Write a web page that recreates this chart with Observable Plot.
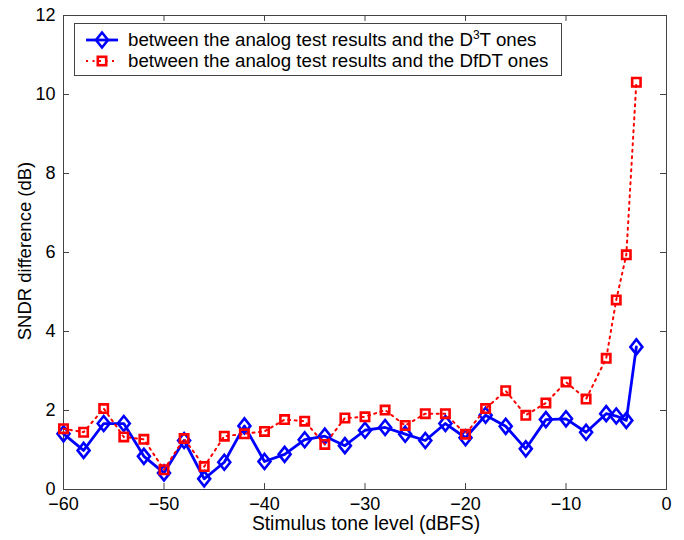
<!DOCTYPE html>
<html>
<head>
<meta charset="utf-8">
<script src="https://cdn.jsdelivr.net/npm/d3@7"></script>
<script src="https://cdn.jsdelivr.net/npm/@observablehq/plot@0.6"></script>
<style>
  html, body { margin: 0; padding: 0; background: #fff; }
  #wrap { position: relative; width: 684px; height: 540px; font-family: "Liberation Sans", Arial, sans-serif; }
  #legend { position: absolute; left: 74px; top: 23px; width: 488px; height: 53px; border: 1px solid #444; background: #fff; box-sizing: border-box; font-size: 18.7px; color: #000; }
  .row { position: absolute; left: 0; height: 22px; width: 486px; line-height: 22px; white-space: nowrap; }
  .row svg { position: absolute; left: 9px; top: 0; }
  .row span { position: absolute; left: 53px; top: 0; }
  sup { font-size: 12px; vertical-align: 7px; line-height: 0; }
</style>
</head>
<body>
<div id="wrap"></div>
<script>
const levels = [-60,-58,-56,-54,-52,-50,-48,-46,-44,-42,-40,-38,-36,-34,-32,-30,-28,-26,-24,-22,-20,-18,-16,-14,-12,-10,-8,-6,-5,-4,-3];
const d3tDiff = [1.41,0.99,1.67,1.67,0.84,0.42,1.24,0.27,0.69,1.61,0.71,0.89,1.26,1.35,1.11,1.50,1.57,1.40,1.24,1.67,1.31,1.88,1.60,1.03,1.77,1.79,1.45,1.92,1.86,1.75,3.61];
const dfdtDiff = [1.54,1.45,2.05,1.33,1.27,0.50,1.29,0.58,1.35,1.41,1.47,1.77,1.73,1.14,1.81,1.84,2.01,1.62,1.92,1.92,1.40,2.05,2.50,1.88,2.19,2.72,2.29,3.32,4.80,5.94,10.31];
const xTicks = [-60,-50,-40,-30,-20,-10,0];
const yTicks = [0,2,4,6,8,10,12];

const d3tData = levels.map((x, i) => ({x, y: d3tDiff[i]}));
const dfdtData = levels.map((x, i) => ({x, y: dfdtDiff[i]}));

const diamond = { draw(ctx, size) { const r = Math.sqrt(size / Math.PI); ctx.moveTo(0, -r); ctx.lineTo(r * 0.8, 0); ctx.lineTo(0, r); ctx.lineTo(-r * 0.8, 0); ctx.closePath(); } };
const square = { draw(ctx, size) { const r = Math.sqrt(size / Math.PI); ctx.rect(-r, -r, 2 * r, 2 * r); } };

const axisColor = "#444";
const tx = 0.6, ty = 0.15; // inward tick lengths in data units

const chart = Plot.plot({
  width: 684,
  height: 540,
  marginLeft: 63,
  marginRight: 18,
  marginTop: 15,
  marginBottom: 51,
  style: { fontFamily: "Liberation Sans, Arial, sans-serif", fontSize: "18px", color: "#000", background: "#fff" },
  x: { domain: [-60, 0], ticks: xTicks },
  y: { domain: [0, 12], ticks: yTicks },
  marks: [
    Plot.frame({ stroke: axisColor, strokeWidth: 1 }),
    Plot.ruleX(xTicks, { x: d => d, y1: 0, y2: ty, stroke: axisColor }),
    Plot.ruleX(xTicks, { x: d => d, y1: 12, y2: 12 - ty, stroke: axisColor }),
    Plot.ruleY(yTicks, { y: d => d, x1: -60, x2: -60 + tx, stroke: axisColor }),
    Plot.ruleY(yTicks, { y: d => d, x1: 0, x2: -tx, stroke: axisColor }),
    Plot.axisX({ ticks: xTicks, tickSize: 0, tickPadding: 8, label: null, fontSize: 18, tickFormat: d3.format("d") }),
    Plot.axisY({ ticks: yTicks, tickSize: 0, tickPadding: 8, label: null, fontSize: 18, tickFormat: d3.format("d") }),
    Plot.line(d3tData, { x: "x", y: "y", stroke: "#0000ff", strokeWidth: 2.8 }),
    Plot.dot(d3tData, { x: "x", y: "y", symbol: diamond, r: 7.5, stroke: "#0000ff", strokeWidth: 2.6, fill: "none" }),
    Plot.line(dfdtData, { x: "x", y: "y", stroke: "#ff0000", strokeWidth: 2, strokeDasharray: "2,4.5" }),
    Plot.dot(dfdtData, { x: "x", y: "y", symbol: square, r: 4.2, stroke: "#ff0000", strokeWidth: 2.6, fill: "none" })
  ]
});

const wrap = document.getElementById("wrap");
wrap.appendChild(chart);

// axis titles
const svg = d3.select(chart);
svg.append("text")
  .attr("x", 366).attr("y", 530)
  .attr("text-anchor", "middle")
  .attr("font-size", 19.3)
  .attr("fill", "#000")
  .text("Stimulus tone level (dBFS)");
svg.append("text")
  .attr("transform", "translate(31,251) rotate(-90)")
  .attr("text-anchor", "middle")
  .attr("font-size", 18.5)
  .attr("fill", "#000")
  .text("SNDR difference (dB)");

// legend
const legend = document.createElement("div");
legend.id = "legend";
legend.innerHTML = `
  <div class="row" style="top:5px">
    <svg width="36" height="22"><line x1="2" y1="11" x2="34" y2="11" stroke="#0000ff" stroke-width="2.8"/><path d="M18,3.5L24,11L18,18.5L12,11Z" fill="none" stroke="#0000ff" stroke-width="2.6"/></svg>
    <span>between the analog test results and the D<sup>3</sup>T ones</span>
  </div>
  <div class="row" style="top:26px">
    <svg width="36" height="22"><line x1="2" y1="11" x2="34" y2="11" stroke="#ff0000" stroke-width="2" stroke-dasharray="2,4.5"/><rect x="13.8" y="6.8" width="8.4" height="8.4" fill="none" stroke="#ff0000" stroke-width="2.6"/></svg>
    <span>between the analog test results and the DfDT ones</span>
  </div>`;
wrap.appendChild(legend);
</script>
</body>
</html>
